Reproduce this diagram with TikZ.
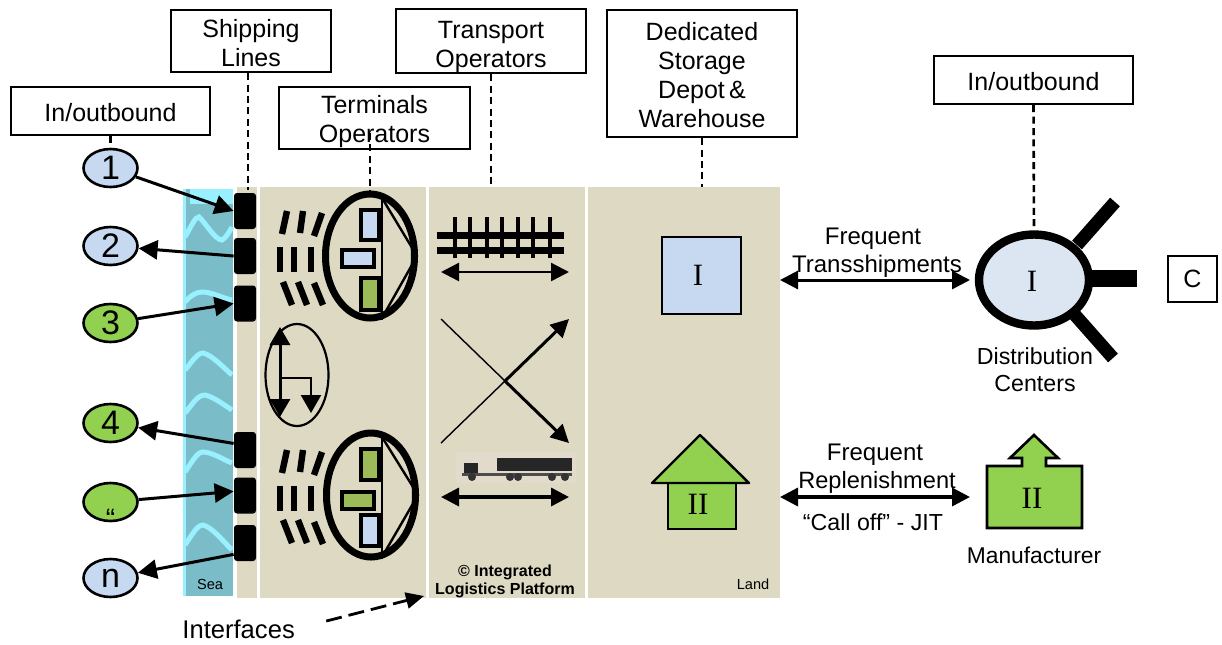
\documentclass[tikz,border=0pt]{standalone}
\usepackage{fontspec}
\setmainfont{Liberation Sans}
\newfontfamily\romanfont{Liberation Serif}
\usepackage{xcolor}
\usetikzlibrary{positioning, arrows.meta, shapes.geometric}
\definecolor{landtan}{HTML}{DDD9C3}
\definecolor{seablue}{HTML}{7ABCC8}
\definecolor{wavecyan}{HTML}{99F1FF}
\definecolor{paleblue}{HTML}{C6D9F1}
\definecolor{mistblue}{HTML}{DCE6F2}
\definecolor{leafgreen}{HTML}{92D050}
\definecolor{olivegreen}{HTML}{9BBB59}
\definecolor{trucktan}{HTML}{E2DACB}

\begin{document}
\begin{tikzpicture}[
    x=0.5pt, y=-0.5pt,
    textbox/.style={rectangle, draw, line width=1.2pt, fill=white, align=center, inner sep=0pt, font=\fontsize{12.5}{14.5}\selectfont},
    plain/.style={align=center, inner sep=0pt, font=\fontsize{12}{13.5}\selectfont},
    oval/.style={ellipse, draw, line width=1.3pt, minimum width=27pt, minimum height=19pt, inner sep=0pt, font=\fontsize{17}{18}\selectfont},
    port/.style={rectangle, fill=black, rounded corners=1.5pt, minimum width=11pt, minimum height=18pt, inner sep=0pt},
    roman/.style={inner sep=0pt, font=\romanfont\fontsize{15.5}{17}\selectfont},
    small/.style={inner sep=0pt, font=\fontsize{7.3}{9}\selectfont},
    panel/.style={fill=landtan, draw=none},
    wave/.style={wavecyan, line width=2.5pt},
    terminal/.style={ellipse, draw, line width=3.5pt, fill=landtan, minimum width=44.5pt, minimum height=62pt, inner sep=0pt},
    dashline/.style={line width=1.3pt, dash pattern=on 3.5pt off 2.2pt},
    arrow/.style={line width=1.5pt, -{Triangle[length=9.5pt,width=9.5pt]}},
    twoway/.style={line width=1.5pt, {Triangle[length=9pt,width=9pt]}-{Triangle[length=9pt,width=9pt]}},
    tie/.style={line width=1.8pt},
    gatemark/.style={line width=3.2pt},
    slot/.style={draw, line width=2pt}
]
\useasboundingbox (0,0) rectangle (1222,644);

\fill[seablue] (183,189) rectangle (233,596);
\fill[wavecyan] (183,189) rectangle (186,596);
\fill[wavecyan] (190,189) rectangle (233,204);
\draw[wave] (185,237) .. controls (192,225) and (195,217) .. (199,217) .. controls (205,222) and (215,240) .. (222,240) .. controls (226,238) and (229,232) .. (232,227);
\draw[wave] (185,302) .. controls (190,296) and (196,292) .. (202,292) .. controls (212,292) and (222,298) .. (232,300);
\draw[wave] (185,370) .. controls (192,362) and (197,353) .. (203,353) .. controls (212,355) and (224,368) .. (232,375);
\draw[wave] (185,413) .. controls (192,405) and (197,395) .. (205,395) .. controls (214,397) and (224,405) .. (232,410);
\draw[wave] (185,472) .. controls (192,462) and (197,452) .. (203,452) .. controls (212,452) and (224,460) .. (232,463);
\draw[wave] (185,545) .. controls (192,535) and (197,525) .. (203,525) .. controls (212,527) and (224,542) .. (232,550);

\fill[panel] (237,187) rectangle (257,598);
\fill[panel] (260,187) rectangle (426,598);
\fill[panel] (429,187) rectangle (585,598);
\fill[panel] (588,187) rectangle (780,598);

\node[textbox, minimum width=99.5pt, minimum height=24pt] (inleft) at (110.5,111) {\rule{0pt}{11pt}In/outbound};
\node[textbox, minimum width=80pt, minimum height=31pt] (shipping) at (251,41) {\rule{0pt}{11pt}Shipping\\Lines};
\node[textbox, minimum width=95.5pt, minimum height=31pt] (terminals) at (374.5,118) {\rule{0pt}{13pt}Terminals\\Operators};
\node[textbox, minimum width=95pt, minimum height=31pt] (transport) at (491,41) {\rule{0pt}{15pt}Transport\\Operators};
\node[textbox, minimum width=95pt, minimum height=63.5pt] (storage) at (702,73.5) {\rule{0pt}{11pt}Dedicated\\Storage\\Depot\,\&\\Warehouse};
\node[textbox, minimum width=99.5pt, minimum height=24pt] (inright) at (1033.5,80) {\rule{0pt}{11pt}In/outbound};
\node[textbox, minimum width=24.5pt, minimum height=23pt] (customer) at (1192.5,279) {C};

\node[oval, fill=paleblue] (n1) at (110.5,168) {1};
\node[oval, fill=paleblue] (n2) at (110.5,246) {2};
\node[oval, fill=leafgreen] (n3) at (110.5,323) {3};
\node[oval, fill=leafgreen] (n4) at (110.5,423) {4};
\node[oval, fill=leafgreen] (n5) at (110.5,502) {\smash{\raisebox{-13pt}{\fontsize{14}{14}\selectfont “}}};
\node[oval, fill=paleblue] (n6) at (110.5,578) {n};

\node[port] (port1) at (245,211) {};
\node[port] (port2) at (245,256) {};
\node[port] (port3) at (245,303.5) {};
\node[port] (port4) at (245,450) {};
\node[port] (port5) at (245,495.5) {};
\node[port] (port6) at (245,543) {};

\draw[arrow] (n1) -- (port1.west);
\draw[arrow] (port2.west) -- (n2);
\draw[arrow] (n3) -- (port3.west);
\draw[arrow] (port4.150) -- (n4);
\draw[arrow] (n5) -- (port5.160);
\draw[arrow] (port6.225) -- (n6);

\node[terminal] (termtop) at (370,256) {};
\node[terminal] (termlow) at (371,495) {};
\node[ellipse, draw, line width=1.1pt, minimum width=31.5pt, minimum height=51pt, inner sep=0pt] (yard) at (297,375) {};

\coordinate (shippingfoot) at (248,190);
\coordinate (terminalfoot) at (370,133);
\coordinate (transportfoot) at (491,187);
\coordinate (storagefoot) at (702,187);

\draw[dashline] (inleft.south) -- (n1.north);
\draw[dashline] (shipping.south -| shippingfoot) -- (shippingfoot);
\draw[dashline] (terminalfoot) -- (termtop.north);
\draw[dashline] (transport.south) -- (transportfoot);
\draw[dashline] (storage.south) -- (storagefoot);

\draw[line width=1.2pt] (382,193) -- (382,320);
\draw[line width=1.2pt] (382,198) -- (417,256) -- (382,318);
\draw[line width=1.2pt] (382,432) -- (382,559);
\draw[line width=1.2pt] (382,437) -- (418,495) -- (382,557);
\draw[slot, fill=paleblue] (361,210) rectangle (379,240);
\draw[slot, fill=paleblue] (342,250) rectangle (374,267);
\draw[slot, fill=olivegreen] (361,278) rectangle (379,310);
\draw[slot, fill=olivegreen] (361,449) rectangle (379,480);
\draw[slot, fill=olivegreen] (342,492) rectangle (374,509);
\draw[slot, fill=paleblue] (361,515) rectangle (379,546);

\draw[gatemark] (287,211) -- (282,234);
\draw[gatemark] (303,211) -- (300,233);
\draw[gatemark] (322,213) -- (314,236);
\draw[gatemark] (280,247) -- (280,272);
\draw[gatemark] (294,247) -- (294,272);
\draw[gatemark] (311,247) -- (311,272);
\draw[gatemark] (283,282) -- (292,305);
\draw[gatemark] (298,282) -- (307,305);
\draw[gatemark] (314,283) -- (323,305);
\draw[gatemark] (287,450) -- (282,473);
\draw[gatemark] (303,450) -- (300,472);
\draw[gatemark] (322,452) -- (314,475);
\draw[gatemark] (280,486) -- (280,511);
\draw[gatemark] (294,486) -- (294,511);
\draw[gatemark] (311,486) -- (311,511);
\draw[gatemark] (283,520) -- (292,543);
\draw[gatemark] (298,520) -- (307,543);
\draw[gatemark] (314,522) -- (323,544);

\draw[line width=1.5pt, {Triangle[length=9pt,width=10pt]}-{Triangle[length=9pt,width=10pt]}] (280,327) -- (280,417);
\draw[line width=1.2pt, -{Triangle[length=9pt,width=10pt]}] (280,378) -- (311,378) -- (311,413);

\draw[line width=3.5pt] (437,235) -- (564,235);
\draw[line width=3.5pt] (437,250) -- (564,250);
\draw[tie] (455,217) -- (455,258);
\draw[tie] (470,217) -- (470,258);
\draw[tie] (487,217) -- (487,258);
\draw[tie] (502,217) -- (502,258);
\draw[tie] (518,217) -- (518,258);
\draw[tie] (533,217) -- (533,258);
\draw[tie] (550,217) -- (550,258);

\coordinate (railleft) at (441,272);
\coordinate (railright) at (569,272);
\coordinate (roadleft) at (441,497);
\coordinate (roadright) at (569,497);
\coordinate (crossa) at (441,319);
\coordinate (crossb) at (441,443);
\coordinate (crossc) at (569,319);
\coordinate (crossd) at (569,443);
\coordinate (crossmid) at (505,381);

\draw[twoway, line width=1.2pt] (railleft) -- (railright);
\draw[twoway, line width=1.7pt] (roadleft) -- (roadright);
\draw[line width=0.7pt] (crossa) -- (crossmid);
\draw[line width=0.7pt] (crossb) -- (crossmid);
\draw[line width=1.5pt, -{Triangle[length=9pt,width=9pt]}] (crossmid) -- (crossc);
\draw[line width=1.5pt, -{Triangle[length=9pt,width=9pt]}] (crossmid) -- (crossd);

\fill[trucktan] (456,452) rectangle (576,483);
\fill[black!85] (497,458) rectangle (572,471);
\fill[black!85] (464,463) rectangle (478,474);
\fill[black!70] (462,473) rectangle (572,476);
\fill[black!80] (472,477) circle (4);
\fill[black!80] (510,477) circle (4);
\fill[black!80] (518,477) circle (4);
\fill[black!80] (552,477) circle (4);
\fill[black!80] (565,477) circle (4);

\node[rectangle, draw, line width=1.3pt, fill=paleblue, minimum width=39.5pt, minimum height=38.5pt, inner sep=0pt] (depot) at (701.5,275.5) {};
\node[roman] (depotlabel) at (698,275) {I};

\draw[line width=1.2pt, fill=leafgreen] (668,483) rectangle (736,529);
\draw[line width=1.2pt, fill=leafgreen, line join=round] (700,435) -- (749,483) -- (652,483) -- cycle;
\node[roman] (warehouselabel) at (698,504) {II};

\draw[line width=6.5pt] (1077,245) -- (1115,202);
\draw[line width=8.5pt] (1092,278) -- (1137,278);
\draw[line width=6.5pt] (1075,315) -- (1113,358);
\node[ellipse, draw, line width=4.2pt, fill=mistblue, minimum width=55pt, minimum height=45.5pt, inner sep=0pt] (center) at (1034,280) {};
\node[roman] (centerlabel) at (1032,281) {I};

\draw[line width=1.3pt, fill=leafgreen, line join=miter] (1034,435) -- (1058,458) -- (1046,458) -- (1046,466) -- (1082,466) -- (1082,528) -- (987,528) -- (987,466) -- (1022,466) -- (1022,458) -- (1010,458) -- cycle;
\node[roman] (makerlabel) at (1032,498) {II};

\draw[dashline] (inright.south) -- (center.north);

\coordinate (shipleft) at (780,280);
\coordinate (shipright) at (970,280);
\coordinate (refillleft) at (780,497);
\coordinate (refillright) at (970,497);
\draw[twoway] (shipleft) -- (shipright);
\draw[twoway, line width=1.7pt] (refillleft) -- (refillright);

\node[plain] (freqtop) at (873,239) {Frequent};
\node[plain] (tranship) at (877,266) {Transshipments};
\node[plain] (freqlow) at (875,455) {Frequent};
\node[plain, font=\fontsize{11.8}{13}\selectfont] (replenish) at (877,482) {Replenishment};
\node[plain, font=\fontsize{11.6}{13}\selectfont] (calloff) at (873,522) {“Call off” - JIT};
\node[plain, font=\fontsize{11.6}{13}\selectfont] (dctext) at (1035,370) {Distribution\\[0.5pt]Centers};
\node[plain, font=\fontsize{11.4}{13}\selectfont] (makertext) at (1034,555) {Manufacturer};

\node[small] (seatext) at (210,584) {Sea};
\node[small] (landtext) at (753,584) {Land};
\node[align=center, inner sep=0pt, font=\bfseries\fontsize{8}{9}\selectfont] (copyright) at (505,581) {© Integrated\\Logistics Platform};

\node[plain, anchor=west, font=\fontsize{12.8}{14}\selectfont] (interfaces) at (182,629) {Interfaces};
\coordinate (interfacetip) at (424,596);
\draw[line width=1.4pt, dash pattern=on 8pt off 3.5pt, shorten <=16pt, -{Triangle[length=9pt,width=8pt]}] (interfaces.east) -- (interfacetip);

\end{tikzpicture}
\end{document}
